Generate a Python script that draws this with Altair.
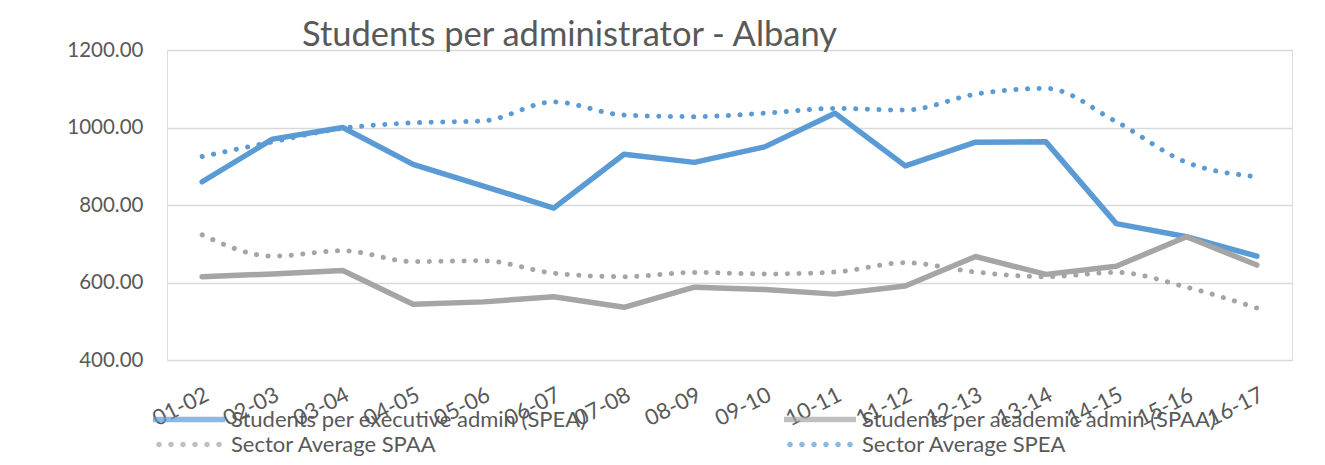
import altair as alt
import pandas as pd

years = ["01-02", "02-03", "03-04", "04-05", "05-06", "06-07", "07-08", "08-09",
         "09-10", "10-11", "11-12", "12-13", "13-14", "14-15", "15-16", "16-17"]
spea = [860, 970, 1000, 905, 849, 792, 931, 910, 950, 1037, 901, 962, 963, 752, 718, 668]
spaa = [615, 622, 631, 544, 550, 563, 536, 588, 582, 570, 591, 667, 621, 642, 718, 645]
sector_spaa = [723, 668, 682, 654, 656, 624, 615, 626, 622, 627, 651, 627, 615, 626, 588, 534]
sector_spea = [925, 963, 998, 1012, 1017, 1066, 1032, 1028, 1037, 1049, 1045, 1086, 1101, 1015, 910, 873]

series_names = ["Students per executive admin (SPEA)", "Students per academic admin (SPAA)",
                "Sector Average SPAA", "Sector Average SPEA"]
series_colors = ["#5B9BD5", "#A5A5A5", "#A5A5A5", "#5B9BD5"]

rows = []
for name, vals in zip(series_names, [spea, spaa, sector_spaa, sector_spea]):
    for y, v in zip(years, vals):
        rows.append({"year": y, "series": name, "value": v})
df = pd.DataFrame(rows)

FONT = "Lato"
TXT = "#595959"

solid_path = "M-1,-0.075H1V0.075H-1Z"
r = 0.078
dot_path = "".join(
    f"M{cx - r:.3f},0a{r},{r} 0 1,0 {2 * r},0a{r},{r} 0 1,0 {-2 * r},0Z"
    for cx in [-0.833, -0.5, -0.167, 0.167, 0.5, 0.833]
)
shape_range = [solid_path, solid_path, dot_path, dot_path]

x_enc = alt.X("year:O", sort=years,
              axis=alt.Axis(title=None, labelAngle=-27, labelAlign="right", labelBaseline="top",
                            labelPadding=24, domain=False, ticks=False, grid=False,
                            labelFontSize=22, labelColor=TXT, labelFont=FONT))
y_enc = alt.Y("value:Q", scale=alt.Scale(domain=[400, 1200], nice=False, zero=False),
              axis=alt.Axis(title=None, values=[400, 600, 800, 1000, 1200], format=".2f",
                            domain=False, ticks=False, grid=True, gridColor="#D9D9D9",
                            gridWidth=1.5, labelPadding=24, labelFontSize=20.5,
                            labelColor=TXT, labelFont=FONT))

stroke_enc = alt.Stroke("series:N", sort=series_names,
                        scale=alt.Scale(range=series_colors), legend=None)

base = alt.Chart(df)

solid = base.transform_filter(
    alt.FieldOneOfPredicate(field="series", oneOf=series_names[:2])
).mark_line(strokeWidth=5.5, strokeCap="round", strokeJoin="round").encode(
    x=x_enc, y=y_enc, stroke=stroke_enc, detail="series:N",
)

dotted = base.transform_filter(
    alt.FieldOneOfPredicate(field="series", oneOf=series_names[2:])
).mark_line(strokeWidth=5, strokeCap="round", strokeDash=[0.1, 11.5],
            interpolate="monotone").encode(
    x=x_enc, y=y_enc, stroke=stroke_enc, detail="series:N",
)

leg = alt.Legend(title=None, orient="none", direction="horizontal", legendX=-14, legendY=357,
                 columns=2, columnPadding=197, rowPadding=0, clipHeight=25, symbolSize=5184,
                 symbolStrokeWidth=0, labelOffset=6, labelFontSize=22, labelColor=TXT,
                 labelFont=FONT, labelLimit=600, padding=0)

legend_layer = base.mark_point(filled=True, size=0, strokeWidth=0).encode(
    x=x_enc, y=y_enc,
    color=alt.Color("series:N", scale=alt.Scale(domain=series_names, range=series_colors),
                    legend=leg),
    shape=alt.Shape("series:N", scale=alt.Scale(domain=series_names, range=shape_range),
                    legend=leg),
)

chart = alt.layer(solid, dotted, legend_layer).properties(
    width=1125, height=310,
    title=alt.TitleParams("Students per administrator - Albany", anchor="start", frame="group",
                          dx=135, offset=-13, fontSize=34.5, font=FONT,
                          fontWeight="normal", color=TXT),
    autosize=alt.AutoSizeParams(type="none"),
    padding={"left": 159, "top": 42, "right": 25, "bottom": 97},
).configure_view(stroke=None).configure(background="white")

chart.save("out.html", embed_options={"renderer": "svg", "actions": False})
